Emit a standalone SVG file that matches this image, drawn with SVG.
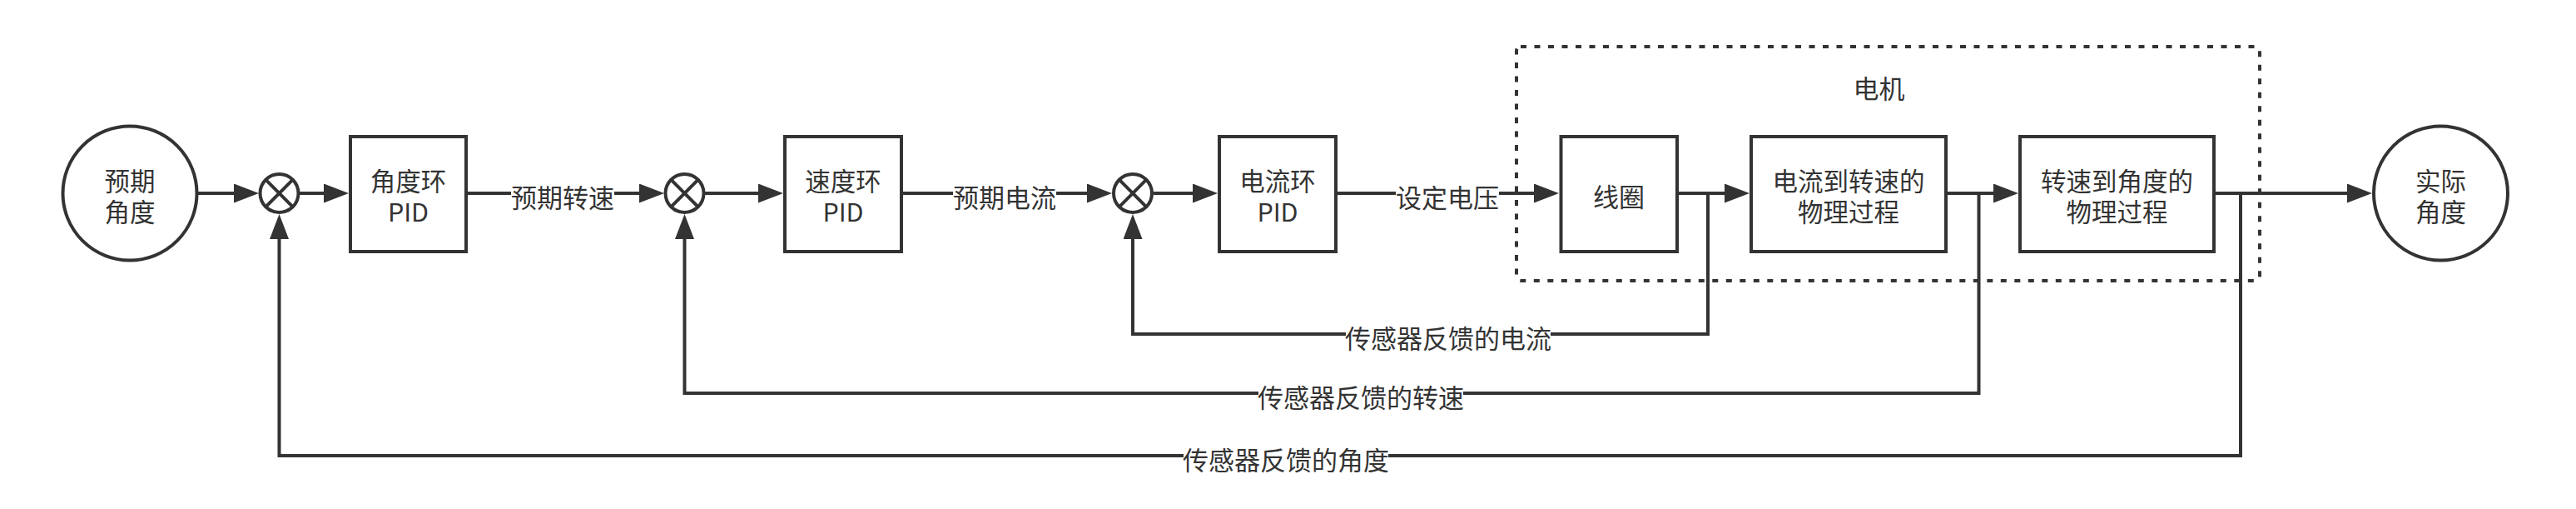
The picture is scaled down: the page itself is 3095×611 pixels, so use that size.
<svg xmlns="http://www.w3.org/2000/svg" width="3095" height="611" viewBox="0 0 3095 611">
<style>
.shape{fill:#ffffff;stroke:#333333;stroke-width:4}
.line{fill:none;stroke:#333333;stroke-width:4}
.arrow{fill:none;stroke:#333333;stroke-width:4;marker-end:url(#arr)}
.txt{font-family:"Noto Sans CJK SC","Noto Sans",sans-serif;font-size:31px;fill:#333333;text-anchor:middle}
.ml{font-size:30.5px}
.bg{fill:#ffffff;stroke:none}
.group{fill:none;stroke:#333333;stroke-width:4;stroke-dasharray:7 9.5}
</style>
<defs>
<marker id="arr" markerUnits="userSpaceOnUse" markerWidth="30" markerHeight="23" refX="20" refY="11.5" orient="auto">
<path d="M0,0 L30,11.5 L0,23 Z" fill="#333333"/>
</marker>
</defs>
<rect width="3095" height="611" fill="#ffffff"/>

<g id="motor-group">
<rect class="group" x="1822" y="56" width="893" height="281" rx="5" ry="5"/>
<text class="txt" x="2257.5" y="118">电机</text>
</g>

<g id="connectors">
<path class="arrow" d="M238,232 H301"/>
<path class="arrow" d="M360,232 H409"/>
<path class="arrow" d="M562,232 H788"/>
<path class="arrow" d="M847,232 H931"/>
<path class="arrow" d="M1085,232 H1326"/>
<path class="arrow" d="M1386,232 H1453"/>
<path class="arrow" d="M1607,232 H1863"/>
<path class="arrow" d="M2017,232 H2092"/>
<path class="arrow" d="M2340,232 H2415"/>
<path class="arrow" d="M2662,232 H2840"/>
<path class="arrow" d="M2052,232 V401 H1361 V267"/>
<path class="arrow" d="M2377.5,232 V472 H822.5 V267"/>
<path class="arrow" d="M2692,232 V547 H335.5 V267"/>
<rect class="bg" x="614" y="222" width="124" height="34"/>
<text class="txt" x="676" y="249">预期转速</text>
<rect class="bg" x="1145" y="222" width="124" height="34"/>
<text class="txt" x="1207" y="249">预期电流</text>
<rect class="bg" x="1677" y="222" width="124" height="34"/>
<text class="txt" x="1739" y="249">设定电压</text>
<rect class="bg" x="1617" y="390" width="246" height="32"/>
<text class="txt" x="1740" y="418">传感器反馈的电流</text>
<rect class="bg" x="1512" y="461" width="246" height="32"/>
<text class="txt" x="1635" y="489">传感器反馈的转速</text>
<rect class="bg" x="1422" y="536" width="246" height="32"/>
<text class="txt" x="1545" y="564">传感器反馈的角度</text>
</g>

<g id="expected-angle">
<circle class="shape" cx="156" cy="232" r="80.5"/>
<text class="txt ml" x="156" y="228.75">预期<tspan x="156" dy="37.5">角度</tspan></text>
</g>

<g id="sum1">
<circle class="shape" cx="335.5" cy="232" r="23"/>
<path class="line" d="M319.2,215.7 L351.8,248.3 M351.8,215.7 L319.2,248.3"/>
</g>

<g id="angle-pid">
<rect class="shape" x="421" y="164" width="139" height="138"/>
<text class="txt ml" x="490.5" y="228.75">角度环<tspan x="490.5" dy="37.5">PID</tspan></text>
</g>

<g id="sum2">
<circle class="shape" cx="822.5" cy="232" r="23"/>
<path class="line" d="M806.2,215.7 L838.8,248.3 M838.8,215.7 L806.2,248.3"/>
</g>

<g id="speed-pid">
<rect class="shape" x="943" y="164" width="140" height="138"/>
<text class="txt ml" x="1013" y="228.75">速度环<tspan x="1013" dy="37.5">PID</tspan></text>
</g>

<g id="sum3">
<circle class="shape" cx="1361" cy="232" r="23"/>
<path class="line" d="M1344.7,215.7 L1377.3,248.3 M1377.3,215.7 L1344.7,248.3"/>
</g>

<g id="current-pid">
<rect class="shape" x="1465" y="164" width="140" height="138"/>
<text class="txt ml" x="1535" y="228.75">电流环<tspan x="1535" dy="37.5">PID</tspan></text>
</g>

<g id="coil">
<rect class="shape" x="1875.5" y="164" width="139.5" height="138"/>
<text class="txt" x="1945" y="248">线圈</text>
</g>

<g id="current-to-speed">
<rect class="shape" x="2104" y="164" width="234" height="138"/>
<text class="txt ml" x="2221" y="228.75">电流到转速的<tspan x="2221" dy="37.5">物理过程</tspan></text>
</g>

<g id="speed-to-angle">
<rect class="shape" x="2427" y="164" width="233" height="138"/>
<text class="txt ml" x="2543.5" y="228.75">转速到角度的<tspan x="2543.5" dy="37.5">物理过程</tspan></text>
</g>

<g id="actual-angle">
<circle class="shape" cx="2932.5" cy="232" r="80.5"/>
<text class="txt ml" x="2932.5" y="228.75">实际<tspan x="2932.5" dy="37.5">角度</tspan></text>
</g>
</svg>
